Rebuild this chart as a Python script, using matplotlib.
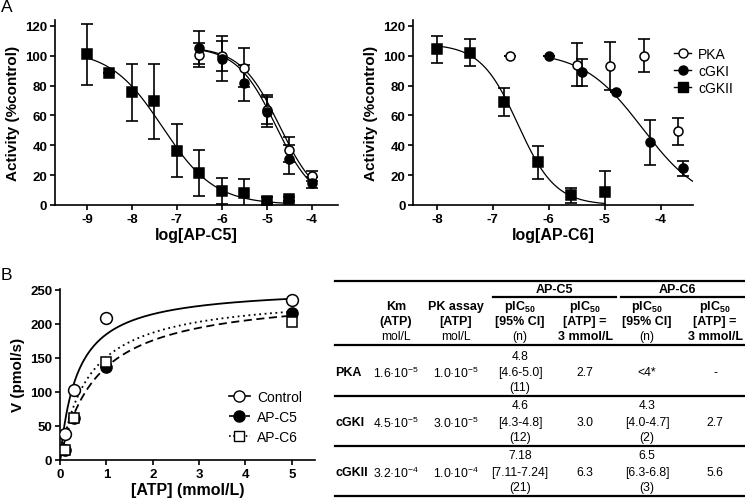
import numpy as np
import matplotlib
matplotlib.use("Agg")
import matplotlib.pyplot as plt

plt.rcParams['font.family'] = ['Liberation Sans', 'DejaVu Sans']
plt.rcParams['mathtext.fontset'] = 'custom'
plt.rcParams['mathtext.rm'] = 'Liberation Sans'
plt.rcParams['mathtext.bf'] = 'Liberation Sans:bold'
plt.rcParams['axes.unicode_minus'] = False

# ---- Panel A, left: AP-C5 ----
c5_x = [-6.5, -6.0, -5.5, -5.0, -4.5, -4.0]
c5_pka = [100.5, 100.0, 92.0, 64.0, 37.0, 19.5]
c5_pka_err = [8, 10, 13, 10, 8.5, 3.5]
c5_cgki = [105.5, 98.0, 82.0, 62.5, 30.5, 15.0]
c5_cgki_err = [11, 15, 12, 10, 10, 3.5]
c5_cgkii_x = [-9.0, -8.5, -8.0, -7.5, -7.0, -6.5, -6.0, -5.5, -5.0, -4.5]
c5_cgkii = [101, 88.5, 75.5, 69.5, 36.5, 21.5, 9.5, 8.0, 3.0, 4.0]
c5_cgkii_err = [20.5, 0, 19, 25, 18, 15.5, 8.5, 9.5, 2.5, 1.5]

# ---- Panel A, right: AP-C6 ----
c6_pka_x = [-6.7, -5.5, -4.9, -4.3, -3.7]
c6_pka = [100, 94, 93, 100, 49.5]
c6_pka_err = [0, 14.5, 16, 11, 9]
c6_cgki_x = [-6.0, -5.4, -4.8, -4.2, -3.6]
c6_cgki = [100, 89, 76, 42, 24.5]
c6_cgki_err = [0, 9, 0, 15, 5]
c6_cgkii_x = [-8.0, -7.4, -6.8, -6.2, -5.6, -5.0]
c6_cgkii = [104.5, 102, 69, 28.5, 6.5, 8.5]
c6_cgkii_err = [9, 9, 9.5, 11, 5, 14]

# fitted dose-response parameters: top, bottom, logIC50, hill, x-start, x-end
c5_fits = {"PKA": (106, 0, -4.72, 1.0, -6.5, -4.0),
           "cGKI": (106, 0, -4.8, 1.0, -6.5, -4.0),
           "cGKII": (104, 0.3, -7.32, 0.75, -9.0, -4.5)}
c6_fits = {"cGKI": (103, 0, -4.33, 0.82, -6.0, -3.43),
           "cGKII": (108, 0, -6.55, 1.3, -8.0, -5.0)}

# ---- Panel B: kinetics ----
atp = [0.1, 0.3, 1.0, 5.0]
v_control = [38, 103, 209, 235]
v_c5 = [15, 62, 137, 216]
v_c6 = [14, 62, 144, 203]
# Michaelis-Menten fits: Vmax, Km
mm_control = (255, 0.38)
mm_c5 = (246, 0.8)
mm_c6 = (245, 0.62)

# ---- Table ----
rows = ["PKA", "cGKI", "cGKII"]
km_mant = ["1.6", "4.5", "3.2"]
km_exp = ["-5", "-5", "-4"]
pk_mant = ["1.0", "3.0", "1.0"]
pk_exp = ["-5", "-5", "-4"]
c5_pic = ["4.8", "4.6", "7.18"]
c5_ci = ["[4.6-5.0]", "[4.3-4.8]", "[7.11-7.24]"]
c5_n = ["(11)", "(12)", "(21)"]
c5_3mm = ["2.7", "3.0", "6.3"]
c6_pic = ["<4*", "4.3", "6.5"]
c6_ci = ["", "[4.0-4.7]", "[6.3-6.8]"]
c6_n = ["", "(2)", "(3)"]
c6_3mm = ["-", "2.7", "5.6"]


def logistic(x, top, bottom, logic50, hill):
    return bottom + (top - bottom) / (1 + 10 ** (hill * (x - logic50)))


W, H = 745, 502
fig = plt.figure(figsize=(W / 100, H / 100), dpi=100)


def fx(x):
    return x / W


def fy(y):
    return 1 - y / H


def style(ax):
    for s in ["top", "right"]:
        ax.spines[s].set_visible(False)
    for s in ["left", "bottom"]:
        ax.spines[s].set_linewidth(1.2)
    ax.tick_params(direction="out", length=3.5, width=1.2, labelsize=9.5, pad=2)
    for lab in ax.get_xticklabels() + ax.get_yticklabels():
        lab.set_fontweight("bold")


def points(ax, x, y, err, marker, face, ms):
    ax.errorbar(x, y, yerr=err, fmt="none", ecolor="black", elinewidth=1.2,
                capsize=4.5, capthick=1.2, zorder=2)
    ax.plot(x, y, linestyle="none", marker=marker, mfc=face, mec="black",
            mew=1.1, ms=ms, zorder=3)


# Panel A left
ax1 = fig.add_axes([fx(55), fy(206), fx(338 - 55), (206 - 21) / H])
points(ax1, c5_x, c5_pka, c5_pka_err, "o", "white", 6.5)
points(ax1, c5_x, c5_cgki, c5_cgki_err, "o", "black", 6.5)
points(ax1, c5_cgkii_x, c5_cgkii, c5_cgkii_err, "s", "black", 7)
for name, p in c5_fits.items():
    xx = np.linspace(p[4], p[5], 200)
    ax1.plot(xx, logistic(xx, *p[:4]), color="black", lw=0.9, zorder=1)
ax1.set_xlim(-9.71, -3.42)
ax1.set_ylim(0, 124)
ax1.set_xticks([-9, -8, -7, -6, -5, -4])
ax1.set_yticks([0, 20, 40, 60, 80, 100, 120])
ax1.set_xlabel("log[AP-C5]", fontsize=11.5, fontweight="bold", labelpad=2)
ax1.set_ylabel("Activity (%control)", fontsize=11, fontweight="bold", labelpad=4)
style(ax1)

# Panel A right
ax2 = fig.add_axes([fx(413.3), fy(206), fx(692.7 - 413.3), (206 - 21) / H])
points(ax2, c6_pka_x, c6_pka, c6_pka_err, "o", "white", 6.5)
points(ax2, c6_cgki_x, c6_cgki, c6_cgki_err, "o", "black", 6.5)
points(ax2, c6_cgkii_x, c6_cgkii, c6_cgkii_err, "s", "black", 7)
for name, p in c6_fits.items():
    xx = np.linspace(p[4], p[5], 200)
    ax2.plot(xx, logistic(xx, *p[:4]), color="black", lw=0.9, zorder=1)
ax2.set_xlim(-8.42, -3.43)
ax2.set_ylim(0, 124)
ax2.set_xticks([-8, -7, -6, -5, -4])
ax2.set_yticks([0, 20, 40, 60, 80, 100, 120])
ax2.set_xlabel("log[AP-C6]", fontsize=11.5, fontweight="bold", labelpad=2)
ax2.set_ylabel("Activity (%control)", fontsize=11, fontweight="bold", labelpad=4)
style(ax2)

h_pka, = ax2.plot([], [], color="black", lw=1, marker="o", mfc="white", mec="black", ms=6.5)
h_gki, = ax2.plot([], [], color="black", lw=1, marker="o", mfc="black", mec="black", ms=6.5)
h_gkii, = ax2.plot([], [], color="black", lw=1, marker="s", mfc="black", mec="black", ms=7)
fig.legend([h_pka, h_gki, h_gkii], ["PKA", "cGKI", "cGKII"], loc="upper left",
           bbox_to_anchor=(fx(674), fy(48)), bbox_transform=fig.transFigure,
           frameon=False, fontsize=10, handlelength=1.25, handletextpad=0.5,
           labelspacing=0.2, borderpad=0, borderaxespad=0)

# Panel B
ax3 = fig.add_axes([fx(60), fy(461), fx(315 - 60), (461 - 289.5) / H])
xx = np.linspace(0, 5, 300)
ax3.plot(xx, mm_control[0] * xx / (mm_control[1] + xx), color="black", lw=1.3, ls="-")
ax3.plot(xx, mm_c5[0] * xx / (mm_c5[1] + xx), color="black", lw=1.3, ls=(0, (4.5, 2.5)))
ax3.plot(xx, mm_c6[0] * xx / (mm_c6[1] + xx), color="black", lw=1.3, ls=(0, (1, 2)))
ax3.plot(atp, v_control, ls="none", marker="o", mfc="white", mec="black", mew=1.1, ms=8.5, zorder=3)
ax3.plot(atp, v_c5, ls="none", marker="o", mfc="black", mec="black", mew=1.1, ms=8, zorder=3)
ax3.plot(atp, v_c6, ls="none", marker="s", mfc="white", mec="black", mew=1.1, ms=7, zorder=4)
ax3.set_xlim(0, 5.5)
ax3.set_ylim(0, 252)
ax3.set_xticks([0, 1, 2, 3, 4, 5])
ax3.set_yticks([0, 50, 100, 150, 200, 250])
ax3.set_xlabel("[ATP] (mmol/L)", fontsize=11.5, fontweight="bold", labelpad=2)
ax3.set_ylabel("V (pmol/s)", fontsize=11, fontweight="bold", labelpad=4)
style(ax3)

hb1, = ax3.plot([], [], color="black", lw=1.2, ls="-", marker="o", mfc="white", mec="black", ms=8)
hb2, = ax3.plot([], [], color="black", lw=1.2, ls=(0, (3, 2)), marker="o", mfc="black", mec="black", ms=8)
hb3, = ax3.plot([], [], color="black", lw=1.2, ls=(0, (1, 1.5)), marker="s", mfc="white", mec="black", ms=7)
fig.legend([hb1, hb2, hb3], ["Control", "AP-C5", "AP-C6"], loc="upper left",
           bbox_to_anchor=(fx(229), fy(391)), bbox_transform=fig.transFigure,
           frameon=False, fontsize=10, handlelength=1.5, handletextpad=0.5,
           labelspacing=0.42, borderpad=0, borderaxespad=0)

# panel letters
fig.text(fx(1), fy(8), "A", fontsize=12.5, va="center", ha="left")
fig.text(fx(1), fy(276), "B", fontsize=12.5, va="center", ha="left")

# ---- table drawn in figure coordinates ----
def hline(y, x0, x1, lw=1.6):
    fig.add_artist(plt.Line2D([fx(x0), fx(x1)], [fy(y), fy(y)], color="black", lw=lw))


def txt(x, y, s, bold=False, ha="center", size=8.7):
    fig.text(fx(x), fy(y), s, fontsize=size, ha=ha, va="center",
             fontweight="bold" if bold else "normal")


hline(281.7, 335, 745)
hline(297.7, 493, 616)
hline(297.7, 621, 745)
hline(346, 335, 745)
hline(397, 335, 745)
hline(447, 335, 745)
hline(497, 335, 745)

txt(554, 290, "AP-C5", True, size=9)
txt(677, 290, "AP-C6", True, size=9)

cols = [396, 456, 520, 585, 647, 715]
hy = [306.7, 321.7, 336.7]
pic = r"pIC$_{\mathbf{50}}$"
headers = [[("Km", True), ("(ATP)", True), ("mol/L", False)],
           [("PK assay", True), ("[ATP]", True), ("mol/L", False)],
           [(pic, True), ("[95% CI]", True), ("(n)", False)],
           [(pic, True), ("[ATP] =", True), ("3 mmol/L", True)],
           [(pic, True), ("[95% CI]", True), ("(n)", False)],
           [(pic, True), ("[ATP] =", True), ("3 mmol/L", True)]]
for cx, hdr in zip(cols, headers):
    for yy, (s, b) in zip(hy, hdr):
        txt(cx, yy, s, b, size=9 if b else 8.7)

row_y = [373, 423, 473]
for i, yc in enumerate(row_y):
    txt(335, yc, rows[i], True, ha="left", size=9)
    txt(cols[0], yc, km_mant[i] + "·10$^{\\mathregular{" + km_exp[i] + "}}$")
    txt(cols[1], yc, pk_mant[i] + "·10$^{\\mathregular{" + pk_exp[i] + "}}$")
    txt(cols[2], yc - 16.5, c5_pic[i])
    txt(cols[2], yc, c5_ci[i])
    txt(cols[2], yc + 15.5, c5_n[i])
    txt(cols[3], yc, c5_3mm[i])
    if c6_ci[i]:
        txt(cols[4], yc - 16.5, c6_pic[i])
        txt(cols[4], yc, c6_ci[i])
        txt(cols[4], yc + 15.5, c6_n[i])
    else:
        txt(cols[4], yc, c6_pic[i])
    txt(cols[5], yc, c6_3mm[i])

fig.savefig("out.png", dpi=100)
